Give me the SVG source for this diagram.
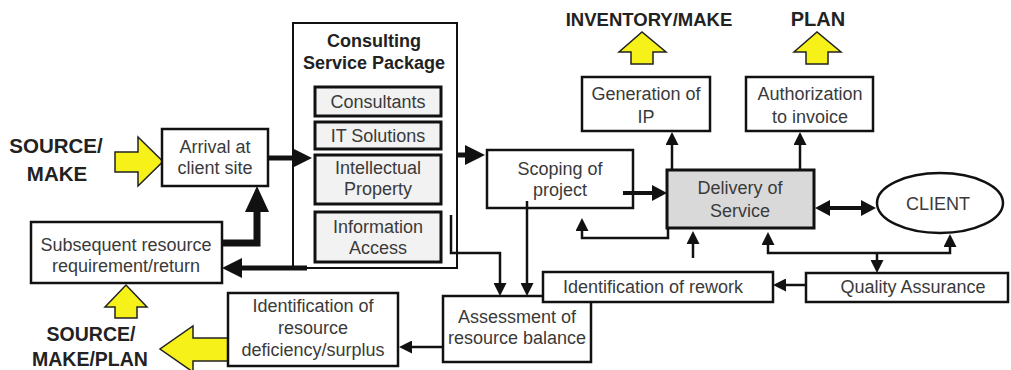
<svg xmlns="http://www.w3.org/2000/svg" width="1011" height="370" viewBox="0 0 1011 370">
<style>
.box{fill:#fff;stroke:#111;stroke-width:2.5}
.inner{fill:#f2f2f2;stroke:#111;stroke-width:3}
.gray{fill:#d9d9d9;stroke:#111;stroke-width:3}
.t{font-family:"Liberation Sans",Arial,sans-serif;font-size:18px;fill:#3a3a3a;text-anchor:middle}
.b{font-family:"Liberation Sans",Arial,sans-serif;font-weight:bold;fill:#222;text-anchor:middle}
.c{fill:none;stroke:#111;stroke-linejoin:miter}
.w2{stroke-width:2.5}
.w4{stroke-width:4}
.w5{stroke-width:5}
.w7{stroke-width:7}
.y{fill:#f7f11a;stroke:#222;stroke-width:1.5;stroke-linejoin:miter}
</style>
<defs>
<marker id="a" markerUnits="userSpaceOnUse" viewBox="0 0 13 13" markerWidth="13" markerHeight="13" refX="0" refY="6.5" orient="auto-start-reverse"><path d="M0,0 L13,6.5 L0,13 z" fill="#111"/></marker>
<marker id="m" markerUnits="userSpaceOnUse" viewBox="0 0 15 16" markerWidth="15" markerHeight="16" refX="0" refY="8" orient="auto-start-reverse"><path d="M0,0 L15,8 L0,16 z" fill="#111"/></marker>
<marker id="k" markerUnits="userSpaceOnUse" viewBox="0 0 20 20" markerWidth="20" markerHeight="20" refX="0" refY="10" orient="auto-start-reverse"><path d="M0,0 L20,10 L0,20 z" fill="#111"/></marker>
<marker id="kk" markerUnits="userSpaceOnUse" viewBox="0 0 26 24" markerWidth="26" markerHeight="24" refX="0" refY="12" orient="auto-start-reverse"><path d="M0,0 L26,12 L0,24 z" fill="#111"/></marker>
</defs>

<g id="yellow-arrows">
<path class="y" d="M115,152 H138 V137 L163,161.5 L138,186 V172 H115 z"/>
<path class="y" d="M115,318 V307 H105 L126,285 L147,307 H137 V318 z"/>
<path class="y" d="M228,338 H193 V326 L160,349 L193,372 V361 H228 z"/>
<path class="y" d="M631,64 V52 H619 L642,32 L666,52 H653 V64 z"/>
<path class="y" d="M806,64 V52 H794 L817,32 L841,52 H828 V64 z"/>
</g>

<g id="labels">
<text class="b" x="56" y="153" font-size="20.5">SOURCE/</text>
<text class="b" x="57" y="181" font-size="20.5">MAKE</text>
<text class="b" x="91" y="341" font-size="19.5">SOURCE/</text>
<text class="b" x="90" y="366" font-size="19.5">MAKE/PLAN</text>
<text class="b" x="649" y="26" font-size="18.5">INVENTORY/MAKE</text>
<text class="b" x="818" y="26" font-size="20">PLAN</text>
</g>

<g id="arrival">
<rect class="box" x="162" y="129" width="106" height="57"/>
<text class="t" x="215" y="153">Arrival at</text>
<text class="t" x="215" y="174">client site</text>
</g>

<g id="subsequent">
<rect class="box" x="31" y="222" width="191" height="61"/>
<text class="t" x="126" y="251">Subsequent resource</text>
<text class="t" x="126" y="272">requirement/return</text>
</g>

<g id="consulting-package">
<rect class="box" x="293" y="23" width="164" height="245" style="stroke-width:2"/>
<text class="b" x="374" y="47" font-size="18">Consulting</text>
<text class="b" x="374" y="69" font-size="18">Service Package</text>
</g>
<g id="consultants">
<rect class="inner" x="315" y="87" width="126" height="29"/>
<text class="t" x="378" y="108">Consultants</text>
</g>
<g id="it-solutions">
<rect class="inner" x="315" y="122" width="126" height="27"/>
<text class="t" x="378" y="142">IT Solutions</text>
</g>
<g id="intellectual-property">
<rect class="inner" x="315" y="155" width="126" height="49"/>
<text class="t" x="378" y="174">Intellectual</text>
<text class="t" x="378" y="195">Property</text>
</g>
<g id="information-access">
<rect class="inner" x="315" y="212" width="126" height="50"/>
<text class="t" x="378" y="233">Information</text>
<text class="t" x="378" y="254">Access</text>
</g>

<g id="scoping">
<rect class="box" x="487" y="150" width="146" height="58"/>
<text class="t" x="560" y="175">Scoping of</text>
<text class="t" x="560" y="196">project</text>
</g>

<g id="assessment">
<rect class="box" x="443" y="296" width="148" height="66"/>
<text class="t" x="517" y="323">Assessment of</text>
<text class="t" x="517" y="344">resource balance</text>
</g>

<g id="deficiency">
<rect class="box" x="228" y="293" width="170" height="73"/>
<text class="t" x="313" y="312">Identification of</text>
<text class="t" x="313" y="334">resource</text>
<text class="t" x="313" y="356">deficiency/surplus</text>
</g>

<g id="rework">
<rect class="box" x="543" y="272" width="230" height="30"/>
<text class="t" x="653" y="293">Identification of rework</text>
</g>

<g id="quality">
<rect class="box" x="806" y="273" width="202" height="29"/>
<text class="t" x="913" y="293">Quality Assurance</text>
</g>

<g id="delivery">
<rect class="gray" x="667" y="170" width="147" height="58"/>
<text class="t" x="740" y="194">Delivery of</text>
<text class="t" x="740" y="217">Service</text>
</g>

<g id="client">
<ellipse class="box" cx="940" cy="203" rx="63" ry="30"/>
<text class="t" x="938" y="210">CLIENT</text>
</g>

<g id="generation-ip">
<rect class="box" x="582" y="77" width="128" height="54"/>
<text class="t" x="646" y="100">Generation of</text>
<text class="t" x="646" y="123">IP</text>
</g>

<g id="authorization">
<rect class="box" x="746" y="77" width="127" height="54"/>
<text class="t" x="810" y="100">Authorization</text>
<text class="t" x="810" y="123">to invoice</text>
</g>

<g id="connectors">
<path class="c w5" d="M269,158 H292" marker-end="url(#k)"/>
<path class="c w5" d="M457,155 H465" marker-end="url(#k)"/>
<path class="c w7" d="M222,243 H257 V212" marker-end="url(#kk)"/>
<path class="c w5" d="M307,268 H242" marker-end="url(#k)"/>
<path class="c w2" d="M451,215 V253 H500 V283" marker-end="url(#a)"/>
<path class="c w2" d="M527,201 V283" marker-end="url(#a)"/>
<path class="c w4" d="M623,193 H652" marker-end="url(#m)"/>
<path class="c w2" d="M668,228 V238 H582 V231" marker-end="url(#a)"/>
<path class="c w2" d="M672,170 V145" marker-end="url(#a)"/>
<path class="c w2" d="M800,170 V145" marker-end="url(#a)"/>
<path class="c w4" d="M830,208 H861" marker-start="url(#m)" marker-end="url(#m)"/>
<path class="c w2" d="M693,258 V244" marker-end="url(#a)"/>
<path class="c w2" d="M877,253 H768 V245" marker-end="url(#a)"/>
<path class="c w2" d="M877,253 H950 V247" marker-end="url(#a)"/>
<path class="c w2" d="M877,253 V260" marker-end="url(#a)"/>
<path class="c w2" d="M806,285 H786" marker-end="url(#a)"/>
<path class="c w2" d="M443,347 H412" marker-end="url(#a)"/>
</g>
</svg>
